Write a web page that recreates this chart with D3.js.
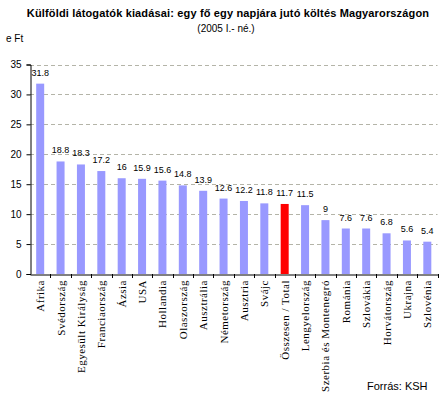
<!DOCTYPE html>
<html><head><meta charset="utf-8">
<script src="https://cdn.jsdelivr.net/npm/d3@7"></script>
<style>body{margin:0;background:#fff}svg{display:block}</style>
</head><body>
<svg id="c" width="442" height="398"></svg>
<script>
const categories = ["Afrika","Svédország","Egyesült Királyság","Franciaország","Ázsia","USA","Hollandia","Olaszország","Ausztrália","Németország","Ausztria","Svájc","Összesen / Total","Lengyelország","Szerbia és Montenegró","Románia","Szlovákia","Horvátország","Ukrajna","Szlovénia"];
const values = [31.8,18.8,18.3,17.2,16,15.9,15.6,14.8,13.9,12.6,12.2,11.8,11.7,11.5,9,7.6,7.6,6.8,5.6,5.4];
const valueLabels = ["31.8","18.8","18.3","17.2","16","15.9","15.6","14.8","13.9","12.6","12.2","11.8","11.7","11.5","9","7.6","7.6","6.8","5.6","5.4"];
const highlight = "Összesen / Total";
const yTicks = [0,5,10,15,20,25,30,35];

const svg = d3.select("#c");
const mLeft = 30, mRight = 437.5, mTop = 64.5, mBottom = 274;
const x = d3.scaleBand().domain(categories).range([mLeft, mRight]).paddingInner(0).paddingOuter(0);
const y = d3.scaleLinear().domain([0,35]).range([mBottom, mTop]);

svg.append("text").attr("x",228).attr("y",17).attr("text-anchor","middle")
  .attr("font-family","Liberation Sans, Arial, sans-serif").attr("font-weight","bold").attr("font-size",11)
  .attr("letter-spacing","0.15px")
  .text("Külföldi látogatók kiadásai: egy fő egy napjára jutó költés Magyarországon");
svg.append("text").attr("x",226).attr("y",32).attr("text-anchor","middle")
  .attr("font-family","Liberation Sans, Arial, sans-serif").attr("font-size",10)
  .text("(2005 I.- né.)");
svg.append("text").attr("x",6).attr("y",42)
  .attr("font-family","Liberation Sans, Arial, sans-serif").attr("font-size",10)
  .text("e Ft");

// gridlines
svg.append("g").selectAll("line").data(yTicks.filter(d=>d>0)).join("line")
  .attr("x1",mLeft).attr("x2",mRight).attr("y1",d=>Math.round(y(d))+0.5).attr("y2",d=>Math.round(y(d))+0.5)
  .attr("stroke","#b4b4a8").attr("stroke-dasharray","4,3");

// y axis
const yAxis = d3.axisLeft(y).tickValues(yTicks).tickSize(4).tickPadding(5);
const gy = svg.append("g").attr("transform",`translate(${mLeft+0.5},0)`).call(yAxis);
gy.select(".domain").attr("stroke","#000");
gy.selectAll(".tick text").attr("font-family","Liberation Sans, Arial, sans-serif").attr("font-size",10).attr("fill","#000");
gy.selectAll(".tick line").attr("stroke","#000");

// bars
const bw = 8;
svg.append("g").selectAll("rect").data(values).join("rect")
  .attr("x",(d,i)=>x(categories[i]) + x.bandwidth()/2 - bw/2)
  .attr("width",bw)
  .attr("y",d=>y(d))
  .attr("height",d=>mBottom - y(d))
  .attr("fill",(d,i)=>categories[i]===highlight ? "#ff0000" : "#9999ff");

// value labels
svg.append("g").selectAll("text").data(values).join("text")
  .attr("x",(d,i)=>x(categories[i]) + x.bandwidth()/2)
  .attr("y",d=>y(d)-8)
  .attr("text-anchor","middle")
  .attr("font-family","Liberation Sans, Arial, sans-serif").attr("font-size",9)
  .text((d,i)=>valueLabels[i]);

// x axis
const xAxis = d3.axisBottom(x).tickValues([]).tickSizeOuter(0);
const gx = svg.append("g").attr("transform",`translate(0,${mBottom+0.5})`).call(xAxis);
gx.select(".domain").attr("stroke","#000");
// category boundary ticks
svg.append("g").selectAll("line").data(d3.range(1,categories.length+1)).join("line")
  .attr("x1",d=>Math.round(mLeft + d*x.step())+0.5).attr("x2",d=>Math.round(mLeft + d*x.step())+0.5)
  .attr("y1",mBottom).attr("y2",mBottom+4).attr("stroke","#000");

// category labels
svg.append("g").selectAll("text").data(categories).join("text")
  .attr("transform",d=>`translate(${x(d) + x.bandwidth()/2 + 4},${mBottom+6}) rotate(-90)`)
  .attr("text-anchor","end")
  .attr("font-family","Liberation Serif, Times New Roman, serif").attr("font-size",11)
  .attr("letter-spacing","0.5px")
  .text(d=>d);

svg.append("text").attr("x",367).attr("y",390)
  .attr("font-family","Liberation Sans, Arial, sans-serif").attr("font-size",11)
  .text("Forrás: KSH");
</script>
</body></html>
